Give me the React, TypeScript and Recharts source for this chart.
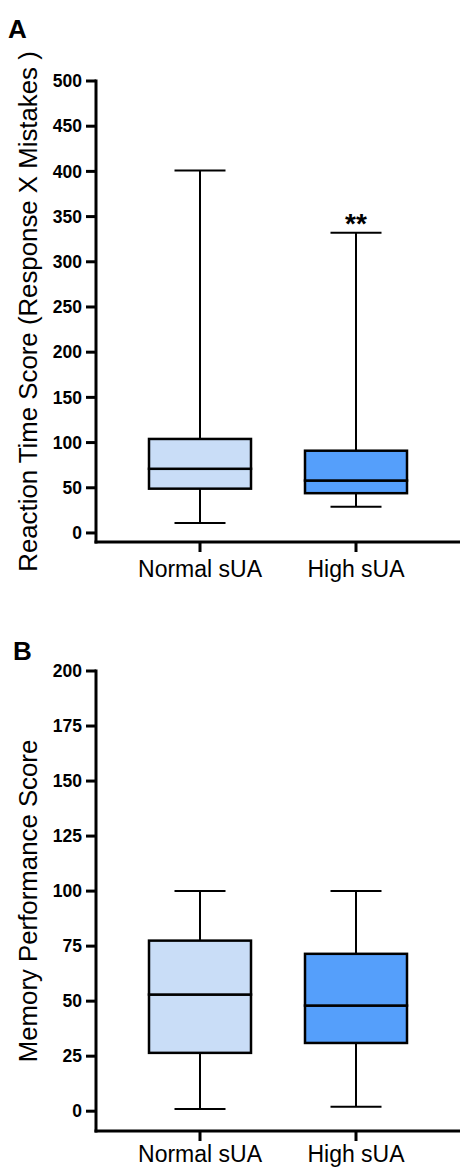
import { ComposedChart, Bar, XAxis, YAxis, Cell, LabelList } from 'recharts';

const categories = ['Normal sUA', 'High sUA'];

// panel A: reaction time score
const reactionMin = [11, 29];
const reactionQ1 = [49, 44];
const reactionMedian = [71, 58];
const reactionQ3 = [104, 91];
const reactionMax = [401, 332];
const reactionSig = ['', '**'];
const reactionTicks = [0, 50, 100, 150, 200, 250, 300, 350, 400, 450, 500];

// panel B: memory performance score
const memoryMin = [1, 2];
const memoryQ1 = [26.5, 31];
const memoryMedian = [53, 48];
const memoryQ3 = [77.5, 71.5];
const memoryMax = [100, 100];
const memorySig = ['', ''];
const memoryTicks = [0, 25, 50, 75, 100, 125, 150, 175, 200];

const boxColors = ['#c9ddf7', '#559ffb'];
const FONT = '"Liberation Sans", Arial, Helvetica, sans-serif';

function buildRows(min: number[], q1: number[], med: number[], q3: number[], max: number[], sig: string[]) {
  return categories.map((name, i) => ({
    name,
    base: min[i],
    lowWhisker: q1[i] - min[i],
    lowerBox: med[i] - q1[i],
    upperBox: q3[i] - med[i],
    highWhisker: max[i] - q3[i],
    sig: sig[i],
  }));
}

const LowWhisker = (props: any) => {
  const { x, y, width, height } = props;
  const cx = x + width / 2;
  const bottom = y + height;
  return (
    <g>
      <line x1={cx} x2={cx} y1={y} y2={bottom} stroke="#000" strokeWidth={2} />
      <line x1={cx - width / 4} x2={cx + width / 4} y1={bottom} y2={bottom} stroke="#000" strokeWidth={2} />
    </g>
  );
};

const HighWhisker = (props: any) => {
  const { x, y, width, height } = props;
  const cx = x + width / 2;
  return (
    <g>
      <line x1={cx} x2={cx} y1={y} y2={y + height} stroke="#000" strokeWidth={2} />
      <line x1={cx - width / 4} x2={cx + width / 4} y1={y} y2={y} stroke="#000" strokeWidth={2} />
    </g>
  );
};

const BoxPart = (props: any) => {
  const { x, y, width, height, fill } = props;
  return <rect x={x} y={y} width={width} height={height} fill={fill} stroke="#000" strokeWidth={2.5} />;
};

function BoxPanel({ rows, title, domain, ticks, width, height, top, bottomH, labelGap }: any) {
  const axisStyle = { stroke: '#000', strokeWidth: 3, strokeLinecap: 'square' as const };
  return (
    <ComposedChart width={width} height={height} data={rows} margin={{ top, right: 0, left: 0, bottom: 0 }}>
      <XAxis
        dataKey="name"
        height={bottomH}
        padding={{ left: 26, right: 26 }}
        axisLine={axisStyle}
        tickLine={{ stroke: '#000', strokeWidth: 3 }}
        tickSize={10}
        tickMargin={labelGap}
        tick={{ fill: '#000', fontSize: 23, fontFamily: FONT }}
        interval={0}
      />
      <YAxis
        type="number"
        width={96}
        domain={domain}
        ticks={ticks}
        interval={0}
        allowDataOverflow
        axisLine={axisStyle}
        tickLine={{ stroke: '#000', strokeWidth: 3 }}
        tickSize={10}
        tickMargin={4}
        tick={{ fill: '#000', fontSize: 17.5, fontWeight: 'bold', fontFamily: FONT }}
        label={{
          content: (p: any) => {
            const vb = p.viewBox || {};
            const cy = vb.y + vb.height / 2;
            return (
              <text
                x={36.5}
                y={cy}
                transform={`rotate(-90, 36.5, ${cy})`}
                textAnchor="middle"
                fontSize={25.8}
                fontFamily={FONT}
                fill="#000"
              >
                {title}
              </text>
            );
          },
        }}
      />
      <Bar dataKey="base" stackId="b" barSize={102} fill="none" isAnimationActive={false} />
      <Bar dataKey="lowWhisker" stackId="b" barSize={102} shape={LowWhisker} isAnimationActive={false} />
      <Bar dataKey="lowerBox" stackId="b" barSize={102} shape={BoxPart} isAnimationActive={false}>
        {rows.map((_: any, i: number) => (
          <Cell key={i} fill={boxColors[i]} />
        ))}
      </Bar>
      <Bar dataKey="upperBox" stackId="b" barSize={102} shape={BoxPart} isAnimationActive={false}>
        {rows.map((_: any, i: number) => (
          <Cell key={i} fill={boxColors[i]} />
        ))}
      </Bar>
      <Bar dataKey="highWhisker" stackId="b" barSize={102} shape={HighWhisker} isAnimationActive={false}>
        <LabelList dataKey="sig" position="top" offset={0} fill="#000" fontSize={28} fontWeight="bold" fontFamily={FONT} />
      </Bar>
    </ComposedChart>
  );
}

export default function App() {
  const reactionRows = buildRows(reactionMin, reactionQ1, reactionMedian, reactionQ3, reactionMax, reactionSig);
  const memoryRows = buildRows(memoryMin, memoryQ1, memoryMedian, memoryQ3, memoryMax, memorySig);
  const letter = { position: 'absolute' as const, fontFamily: FONT, fontWeight: 'bold' as const, fontSize: 26, lineHeight: '26px' };
  return (
    <div style={{ position: 'absolute', left: 0, top: 0, width: 460, height: 1168, background: '#fff' }}>
      <div style={{ ...letter, left: 8, top: 16 }}>A</div>
      <div style={{ ...letter, left: 13, top: 638 }}>B</div>
      <div style={{ position: 'absolute', left: 0, top: 0 }}>
        <BoxPanel
          rows={reactionRows}
          title="Reaction Time Score (Response X Mistakes )"
          domain={[-10, 500]}
          ticks={reactionTicks}
          width={460}
          height={600}
          top={81}
          bottomH={58}
          labelGap={9}
        />
      </div>
      <div style={{ position: 'absolute', left: 0, top: 600 }}>
        <BoxPanel
          rows={memoryRows}
          title="Memory Performance Score"
          domain={[-9, 200]}
          ticks={memoryTicks}
          width={460}
          height={568}
          top={71}
          bottomH={37}
          labelGap={5}
        />
      </div>
    </div>
  );
}
